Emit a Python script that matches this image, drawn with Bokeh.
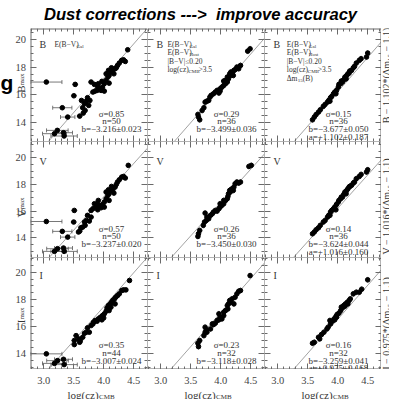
import numpy as np
from bokeh.plotting import figure
from bokeh.layouts import gridplot, column
from bokeh.models import LinearAxis, FixedTicker, Label, Range1d, Div
from bokeh.core.properties import value
from bokeh.embed import file_html
from bokeh.resources import INLINE

# ------------------------------------------------------------------ data
# column 1 : E(B-V)_Gal only
logcz_B_gal = [3.044, 3.525, 3.503, 3.31, 3.40, 3.60, 3.227, 3.18, 3.33, 3.34, 3.65, 3.68, 3.71, 3.73, 3.69,
               3.66, 3.75, 3.77, 3.79, 3.845, 3.82, 3.856, 3.89, 3.93, 3.956, 3.90, 3.98, 4.01, 3.97, 4.04,
               4.07, 4.04, 4.09, 4.12, 4.08, 4.15, 4.17, 4.19, 4.13, 4.21, 4.23, 4.26, 4.30, 4.33, 4.36,
               4.40, 4.01, 3.91, 4.09, 3.63]
mag_B_gal = [16.92, 16.75, 15.92, 15.05, 14.37, 14.44, 13.40, 13.16, 13.23, 12.99, 15.05, 15.34, 15.53, 15.78,
             14.85, 14.66, 15.22, 15.58, 16.92, 16.75, 16.19, 16.26, 16.31, 16.43, 16.31, 16.60, 16.55, 16.80,
             16.97, 17.04, 17.28, 17.52, 17.40, 17.65, 17.77, 17.77, 17.52, 17.89, 17.96, 17.96, 18.13, 18.30,
             18.50, 18.54, 18.42, 19.27, 16.26, 16.80, 16.84, 15.58]
xerr_B_gal = [0.26, 0.05, 0.05, 0.16, 0.12, 0.05, 0.18, 0.20, 0.15, 0.22, 0.04, 0.04, 0.04, 0.03, 0.04,
              0.04, 0.03, 0.03, 0.05, 0.03, 0.03, 0.03, 0.02, 0.02, 0.02, 0.03, 0.02, 0.02, 0.02, 0.02,
              0.02, 0.02, 0.02, 0.02, 0.02, 0.02, 0.02, 0.02, 0.02, 0.02, 0.02, 0.02, 0.02, 0.02, 0.02,
              0.02, 0.02, 0.02, 0.02, 0.04]

logcz_V_gal = [3.044, 3.51, 3.50, 3.31, 3.40, 3.60, 3.23, 3.18, 3.33, 3.34, 3.58, 3.65, 3.68, 3.71, 3.73,
               3.69, 3.76, 3.62, 3.79, 3.845, 3.82, 3.87, 3.90, 3.93, 3.956, 3.89, 3.98, 4.01, 3.97, 4.04,
               4.07, 4.04, 4.09, 4.12, 4.08, 4.15, 4.17, 4.19, 4.13, 4.21, 4.23, 4.26, 4.30, 4.33, 4.36,
               4.41, 4.01, 3.91, 4.09, 3.79]
mag_V_gal = [15.22, 16.05, 15.18, 14.48, 14.05, 14.50, 13.18, 12.98, 13.23, 12.98, 14.43, 14.80, 15.18, 15.30,
             15.68, 14.93, 15.25, 14.75, 16.05, 16.55, 16.18, 16.30, 16.10, 16.43, 16.25, 16.55, 16.50, 16.68,
             16.35, 16.93, 17.18, 17.43, 17.30, 17.55, 17.60, 17.60, 17.35, 17.80, 17.85, 18.00, 18.18, 18.35,
             18.55, 18.60, 18.48, 19.43, 16.30, 16.80, 16.80, 15.55]
xerr_V_gal = [0.26, 0.05, 0.05, 0.16, 0.12, 0.05, 0.18, 0.20, 0.15, 0.22, 0.04, 0.04, 0.04, 0.04, 0.03,
              0.04, 0.03, 0.04, 0.05, 0.03, 0.03, 0.03, 0.02, 0.02, 0.02, 0.03, 0.02, 0.02, 0.02, 0.02,
              0.02, 0.02, 0.02, 0.02, 0.02, 0.02, 0.02, 0.02, 0.02, 0.02, 0.02, 0.02, 0.02, 0.02, 0.02,
              0.02, 0.02, 0.02, 0.02, 0.04]

logcz_I_gal = [3.044, 3.23, 3.18, 3.33, 3.34, 3.51, 3.51, 3.54, 3.60, 3.58, 3.65, 3.68, 3.71, 3.73, 3.76,
               3.79, 3.83, 3.856, 3.89, 3.91, 3.945, 3.97, 3.98, 4.01, 4.04, 4.055, 4.08, 4.11, 4.13, 4.15,
               4.18, 4.20, 4.23, 4.26, 4.12, 4.19, 4.30, 4.33, 4.37, 4.43, 4.09, 4.00, 3.82, 3.61]
mag_I_gal = [14.00, 13.50, 13.30, 13.60, 13.21, 14.68, 14.98, 15.34, 14.85, 15.10, 15.22, 15.51, 15.59, 15.91,
             15.59, 16.08, 16.32, 16.45, 16.40, 16.57, 16.69, 16.50, 16.81, 16.94, 17.13, 17.38, 17.55, 17.67,
             17.79, 17.92, 18.04, 18.16, 18.28, 18.41, 17.43, 17.67, 18.65, 18.70, 18.70, 19.39, 17.18, 16.64,
             16.20, 14.98]
xerr_I_gal = [0.26, 0.18, 0.20, 0.15, 0.22, 0.05, 0.05, 0.05, 0.05, 0.04, 0.04, 0.04, 0.04, 0.03, 0.04,
              0.03, 0.03, 0.02, 0.02, 0.02, 0.02, 0.02, 0.02, 0.02, 0.02, 0.02, 0.02, 0.02, 0.02, 0.02,
              0.02, 0.02, 0.02, 0.02, 0.02, 0.02, 0.02, 0.02, 0.02, 0.02, 0.02, 0.02, 0.03, 0.04]

# column 2 : + E(B-V)_Host, |B-V|<=0.20, log(cz)>3.5
logcz_B_host = [3.63, 3.65, 3.62, 3.69, 3.72, 3.74, 3.77, 3.82, 3.84, 3.88, 3.91, 3.94, 3.97, 3.99, 4.02,
                4.05, 4.08, 4.11, 4.05, 4.13, 4.16, 4.15, 4.19, 4.22, 4.17, 4.24, 4.27, 4.30, 4.33, 4.11,
                3.99, 4.45, 4.49, 3.80, 4.08, 4.21]
mag_B_host = [14.37, 14.17, 14.56, 14.85, 15.05, 15.46, 15.53, 15.83, 15.95, 16.07, 16.19, 16.31, 16.12, 16.26,
              16.55, 16.67, 16.80, 16.92, 16.99, 17.16, 17.40, 17.52, 17.57, 17.77, 17.65, 17.82, 18.01, 17.89,
              18.13, 17.28, 16.43, 19.17, 19.34, 15.58, 17.04, 17.40]

logcz_V_host = [3.62, 3.63, 3.65, 3.71, 3.73, 3.74, 3.77, 3.76, 3.83, 3.86, 3.88, 3.91, 3.94, 3.97, 3.99,
                4.02, 4.05, 4.08, 4.11, 4.13, 4.16, 4.15, 4.19, 4.22, 4.17, 4.24, 4.27, 4.30, 4.33, 4.47,
                4.51, 3.80, 3.99, 4.12, 4.05, 4.21]
mag_V_host = [14.10, 14.30, 14.55, 14.93, 15.18, 15.85, 15.55, 15.30, 15.68, 15.80, 15.93, 16.05, 16.00, 16.18,
              16.30, 16.43, 16.55, 16.80, 16.93, 17.30, 17.43, 17.55, 17.68, 17.80, 17.60, 18.05, 18.18, 18.10,
              18.18, 19.35, 19.43, 15.43, 16.55, 17.10, 16.80, 17.55]

logcz_I_host = [3.63, 3.62, 3.65, 3.72, 3.74, 3.76, 3.83, 3.86, 3.88, 3.91, 3.94, 3.97, 3.99, 4.02, 4.05,
                4.08, 4.11, 4.13, 4.15, 4.17, 4.19, 4.22, 4.24, 4.27, 4.30, 4.49, 3.77, 4.05, 3.97, 4.12,
                3.74, 4.33]
mag_I_host = [14.53, 14.78, 14.98, 15.34, 15.59, 15.76, 15.83, 16.20, 16.15, 16.25, 16.45, 16.50, 16.69, 16.57,
              16.81, 17.18, 17.55, 17.67, 17.92, 17.79, 18.04, 17.67, 18.16, 18.41, 18.60, 19.75, 15.59, 17.06,
              16.94, 17.30, 15.96, 18.65]

# column 3 : + Delta m15(B) correction
logcz_B_dm15 = [3.61, 3.58, 3.68, 3.71, 3.76, 3.79, 3.83, 3.85, 3.88, 3.90, 3.93, 3.95, 3.98, 4.01, 4.02,
                4.05, 4.08, 4.10, 4.12, 4.15, 4.17, 4.20, 4.23, 4.26, 4.28, 4.31, 4.36, 4.39, 4.50, 4.48,
                3.87, 4.06, 3.97, 4.19, 3.64, 4.14]
mag_B_dm15 = [14.37, 14.17, 14.73, 14.90, 15.15, 15.29, 15.46, 15.58, 15.78, 15.87, 16.07, 16.19, 16.31, 16.55,
              16.75, 16.80, 16.92, 17.09, 17.28, 17.40, 17.52, 17.72, 17.77, 17.96, 18.06, 18.30, 18.50, 18.62,
              19.03, 18.74, 15.53, 16.99, 16.07, 17.57, 14.55, 17.15]

logcz_V_dm15 = [3.61, 3.58, 3.68, 3.71, 3.76, 3.79, 3.83, 3.85, 3.88, 3.90, 3.93, 3.95, 3.98, 4.01, 4.02,
                4.05, 4.08, 4.10, 4.12, 4.15, 4.17, 4.20, 4.23, 4.26, 4.28, 4.31, 4.36, 4.39, 4.50, 4.48,
                3.87, 4.06, 3.97, 4.19, 3.64, 4.14]
mag_V_dm15 = [14.43, 14.30, 14.75, 14.93, 15.18, 15.30, 15.55, 15.68, 15.93, 16.05, 16.18, 16.30, 16.50, 16.68,
              16.80, 16.93, 17.05, 17.25, 17.43, 17.55, 17.68, 17.85, 17.93, 18.10, 18.18, 18.43, 18.60, 18.75,
              19.10, 18.93, 15.68, 17.05, 16.10, 17.80, 14.60, 17.30]

logcz_I_dm15 = [3.61, 3.58, 3.68, 3.73, 3.77, 3.82, 3.84, 3.88, 3.91, 3.94, 3.97, 3.99, 4.02, 4.05, 4.08,
                4.10, 4.13, 4.16, 4.19, 4.21, 4.26, 4.31, 4.36, 4.50, 3.87, 3.98, 4.06, 4.17, 3.70, 3.95,
                4.12, 4.40]
mag_I_dm15 = [14.85, 14.78, 15.22, 15.42, 15.59, 15.83, 15.96, 16.20, 16.40, 16.57, 16.74, 16.89, 16.99, 17.18,
              17.38, 17.55, 17.67, 17.79, 17.92, 18.04, 18.41, 18.53, 18.53, 19.44, 16.45, 16.69, 17.43, 17.67,
              15.10, 16.50, 17.50, 18.75]

# Hubble-line fits (slope 5) per panel: rows B, V, I ; columns Gal, Host, dm15
fit_slope = 5.0
fit_intercept = [[-2.80, -3.54, -3.79],
                 [-2.93, -3.36, -3.79],
                 [-2.54, -2.97, -3.46]]

band_names = ["B", "V", "I"]
right_labels = ["B − 1.102*(Δm₁₅ − 1.1)", "V − 1.016*(Δm₁₅ − 1.1)", "I − 0.975*(Δm₁₅ − 1.1)"]
stats = [
    [["σ=0.85", "n=50", "b=−3.216±0.023"],
     ["σ=0.29", "n=36", "b=−3.499±0.036"],
     ["σ=0.15", "n=36", "b=−3.677±0.050", "a=+1.102±0.187"]],
    [["σ=0.57", "n=50", "b=−3.237±0.020"],
     ["σ=0.26", "n=36", "b=−3.450±0.030"],
     ["σ=0.14", "n=36", "b=−3.624±0.044", "a=+1.016±0.160"]],
    [["σ=0.35", "n=44", "b=−3.007±0.024"],
     ["σ=0.23", "n=32", "b=−3.118±0.028"],
     ["σ=0.16", "n=32", "b=−3.259±0.041", "a=+0.975±0.168"]],
]

x_major_ticks = [3.0, 3.5, 4.0, 4.5]
x_tick_labels = ["3.0", "3.5", "4.0", "4.5"]
x_minor_ticks = [2.8, 2.9, 3.0, 3.1, 3.2, 3.3, 3.4, 3.5, 3.6, 3.7, 3.8, 3.9, 4.0, 4.1, 4.2,
                 4.3, 4.4, 4.5, 4.6, 4.7]
y_major_ticks = [14, 16, 18, 20]
y_tick_labels = ["14", "16", "18", "20"]
y_minor_ticks = [12.5, 13.0, 13.5, 14.0, 14.5, 15.0, 15.5, 16.0, 16.5, 17.0, 17.5, 18.0, 18.5,
                 19.0, 19.5, 20.0, 20.5, 21.0]

panel_data = [
    [(logcz_B_gal, mag_B_gal, xerr_B_gal), (logcz_B_host, mag_B_host, None), (logcz_B_dm15, mag_B_dm15, None)],
    [(logcz_V_gal, mag_V_gal, xerr_V_gal), (logcz_V_host, mag_V_host, None), (logcz_V_dm15, mag_V_dm15, None)],
    [(logcz_I_gal, mag_I_gal, xerr_I_gal), (logcz_I_host, mag_I_host, None), (logcz_I_dm15, mag_I_dm15, None)],
]

# ------------------------------------------------------------------ layout / style
SERIF = "Liberation Serif"
TXT = "#333333"
AX = "#6a6a6a"
FRAME_W = 117
ROW_H = [113, 116, 112]
X_RANGE = (2.78, 4.73)
Y_RANGES = [(12.59, 20.82), (12.52, 21.22), (12.85, 21.08)]
LEFT_W, RIGHT_W, BOTTOM_H = 30, 8, 30
TOTAL_W = LEFT_W + 3 * FRAME_W + RIGHT_W
PX_X = FRAME_W / (X_RANGE[1] - X_RANGE[0])
PX_Y = [ROW_H[r] / (Y_RANGES[r][1] - Y_RANGES[r][0]) for r in range(3)]

xr_shared = Range1d(*X_RANGE)
yr_rows = [Range1d(*Y_RANGES[r]) for r in range(3)]


def mk(width, height, xr, yr):
    p = figure(width=width, height=height, x_range=xr, y_range=yr, output_backend="svg",
               toolbar_location=None, title=None, x_axis_location=None, y_axis_location=None,
               min_border=0, min_border_left=0, min_border_right=0, min_border_top=0, min_border_bottom=0)
    p.outline_line_color = None
    p.background_fill_color = "white"
    p.border_fill_color = "white"
    p.grid.visible = False
    return p


def label(p, text, x, y, size, align="left", angle=0.0, font=SERIF, color=TXT, style="normal",
          baseline="alphabetic"):
    p.add_layout(Label(x=x, y=y, text=text, text_font=font, text_font_size=f"{size}px",
                       text_color=color, text_align=align, text_baseline=baseline, angle=angle,
                       text_font_style=style))


def ptext(p, r, text, rx, ry, size, align="left"):
    # position given in pixels from the panel's bottom-left corner, converted to data units
    label(p, text, X_RANGE[0] + rx / PX_X, Y_RANGES[r][0] + ry / PX_Y[r], size, align=align)


def add_axis(p, side, loc, is_x, outer):
    ax = LinearAxis(fixed_location=loc)
    ax.ticker = FixedTicker(ticks=x_major_ticks if is_x else y_major_ticks,
                            minor_ticks=x_minor_ticks if is_x else y_minor_ticks)
    ax.major_tick_in = 6
    ax.major_tick_out = 0
    ax.minor_tick_in = 3
    ax.minor_tick_out = 0
    ax.axis_line_color = AX
    ax.major_tick_line_color = AX
    ax.minor_tick_line_color = AX
    ax.axis_line_width = 2 if outer else 1
    ax.major_label_text_color = None
    p.add_layout(ax, side)


stat_cx = [81, 79, 74]
stat_base = [[28, 20.5, 12.5, 4.5], [29, 21.5, 13.5, 5.5], [25, 17, 8.5, 1.5]]
band_base = [97, 96, 94]
ylab_split = [16.67, 16.12, 16.52]        # y (mag) where the rotated axis title splits into letter / subscript
right_center = [17.40, 16.35, 16.23]      # y (mag) centre of the rotated right-hand labels

rows = []
for r in range(3):
    row = []
    # ---------- left label strip
    L = mk(LEFT_W, ROW_H[r], Range1d(0, LEFT_W), yr_rows[r])
    L.text(x=[25.5] * len(y_major_ticks), y=y_major_ticks, text=y_tick_labels,
           text_align="right", text_baseline="middle", text_font=value(SERIF),
           text_font_size="10.5px", text_color="#444444")
    label(L, band_names[r], 20, ylab_split[r], 11, align="right", angle=np.pi / 2)
    label(L, "max", 21.5, ylab_split[r], 7, align="left", angle=np.pi / 2)
    if r == 0:
        label(L, "g", 0, 16.9, 21, font="Liberation Sans", color="black", style="bold")
    row.append(L)

    for c in range(3):
        p = mk(FRAME_W, ROW_H[r], xr_shared, yr_rows[r])
        add_axis(p, "left", X_RANGE[0], False, c == 0)
        add_axis(p, "right", X_RANGE[1], False, c == 2)
        add_axis(p, "below", Y_RANGES[r][0], True, r == 2)
        add_axis(p, "above", Y_RANGES[r][1], True, r == 0)

        xs = np.array(X_RANGE)
        p.line(xs, fit_slope * xs + fit_intercept[r][c], line_color="#8a8a8a", line_width=0.8)

        x, y, xe = panel_data[r][c]
        x = np.array(x)
        y = np.array(y)
        if xe is not None:
            xe = np.array(xe)
            p.segment(x - xe, y, x + xe, y, line_color="#555555", line_width=0.8)
            big = xe >= 0.1
            p.scatter(np.concatenate([x[big] - xe[big], x[big] + xe[big]]),
                      np.concatenate([y[big], y[big]]),
                      marker="dash", angle=np.pi / 2, size=4, line_color="#555555", line_width=0.8)
            p.segment(x, y - 0.15, x, y + 0.15, line_color="#777777", line_width=0.7)
        else:
            p.segment(x - 0.035, y, x + 0.035, y, line_color="#8c8c8c", line_width=0.8)
            p.segment(x, y - 0.22, x, y + 0.22, line_color="#8c8c8c", line_width=0.8)
        p.scatter(x, y, size=4.6, fill_color="black", line_color="black")

        ptext(p, r, band_names[r], 9, band_base[r], 10)
        for k, s in enumerate(stats[r][c]):
            ptext(p, r, s, stat_cx[c], stat_base[r][k], 9, align="center")

        if r == 0:
            if c == 0:
                ptext(p, r, "E(B−V)", 24, 97, 7.5)
                ptext(p, r, "Gal", 46, 95, 5)
            else:
                x0 = 20 if c == 1 else 22.3
                ptext(p, r, "E(B−V)", x0, 97.5, 7.5)
                ptext(p, r, "Gal", x0 + 22, 95.5, 5)
                ptext(p, r, "E(B−V)", x0, 89, 7.5)
                ptext(p, r, "Host", x0 + 22, 87, 5)
                ptext(p, r, "|B−V|≤0.20", x0, 80.5, 7.5)
                ptext(p, r, "log(cz)", x0, 72, 7.5)
                ptext(p, r, "CMB", x0 + 21, 70, 5)
                ptext(p, r, ">3.5", x0 + 31, 72, 7.5)
                if c == 2:
                    ptext(p, r, "Δm", x0, 63.5, 7.5)
                    ptext(p, r, "15", x0 + 11, 61.5, 5)
                    ptext(p, r, "(B)", x0 + 16, 63.5, 7.5)
        row.append(p)

    # ---------- right label strip
    R = mk(RIGHT_W, ROW_H[r], Range1d(0, RIGHT_W), yr_rows[r])
    label(R, right_labels[r], 5, right_center[r], 10, align="center", angle=np.pi / 2)
    row.append(R)
    rows.append(row)

# ---------- bottom label strips
brow = [None]
for c in range(3):
    B = mk(FRAME_W, BOTTOM_H, xr_shared, Range1d(0, BOTTOM_H))
    B.text(x=x_major_ticks, y=[BOTTOM_H - 11] * len(x_major_ticks), text=x_tick_labels,
           text_align="center", text_baseline="middle", text_font=value(SERIF),
           text_font_size="10.5px", text_color="#444444")
    label(B, "log(cz)", X_RANGE[0] + 37 / PX_X, 5, 11)
    label(B, "CMB", X_RANGE[0] + 68.5 / PX_X, 2.5, 7)
    brow.append(B)
brow.append(None)
rows.append(brow)

grid = gridplot(rows, toolbar_location=None)

title = Div(text=('<div style="font-family:\'Liberation Sans\';font-weight:bold;font-style:italic;'
                  'font-size:16.6px;line-height:19px;white-space:pre;padding-left:39px;color:#000;margin:0">'
                  'Dust corrections ---&gt;  improve accuracy</div>'),
            width=TOTAL_W, height=18)

layout = column(title, grid)

open("out.html", "w").write(file_html(layout, INLINE))
